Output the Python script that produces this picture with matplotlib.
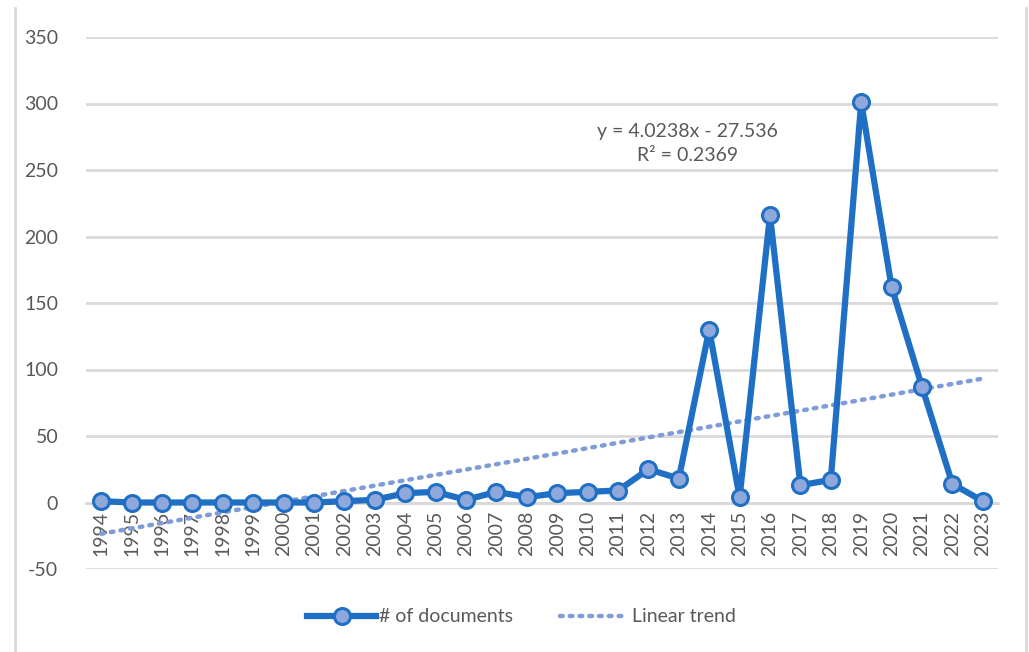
import numpy as np
import matplotlib.pyplot as plt

years = list(range(1994, 2024))
documents = [1, 0, 0, 0, 0, 0, 0, 0, 1, 2,
             7, 8, 2, 8, 4, 7, 8, 9, 25, 18,
             130, 4, 216, 13, 17, 301, 162, 87, 14, 1]

# Excel trend line coefficients (x = 1..n)
trend_slope = 4.0238
trend_intercept = -27.536
trend_r2 = 0.2369

text_col = "#595959"
grid_col = "#d9d9d9"
line_col = "#1f6fc5"
marker_col = "#8fa8dc"
trend_col = "#7f9bd8"

plt.rcParams['font.family'] = ['Lato', 'DejaVu Sans']
plt.rcParams['axes.unicode_minus'] = False

fig = plt.figure(figsize=(10.29, 6.52), dpi=100)
ax = fig.add_axes([86 / 1029, 1 - 569 / 652, (998 - 86) / 1029, (569 - 37) / 652])

x = np.arange(len(years))
trend = np.polyval([trend_slope, trend_intercept], x + 1)

ax.plot(x, trend, linestyle=(0, (0.6, 1.6)), color=trend_col, linewidth=3.2,
        dash_capstyle='round', label="Linear trend", zorder=2)
ax.plot(x, documents, color=line_col, linewidth=4.5, marker='o', markersize=11.5,
        markerfacecolor=marker_col, markeredgecolor=line_col, markeredgewidth=2.2,
        label="# of documents", zorder=3)

ax.set_xlim(-0.5, len(years) - 0.5)
ax.set_ylim(-50, 350)
ax.set_yticks(range(-50, 351, 50))
ax.yaxis.grid(True, color=grid_col, linewidth=2)
ax.set_axisbelow(True)
for s in ['top', 'right', 'left']:
    ax.spines[s].set_visible(False)
ax.spines['bottom'].set_position(('data', 0))
ax.spines['bottom'].set_color(grid_col)
ax.spines['bottom'].set_linewidth(2)
ax.spines['bottom'].set_zorder(1)

ax.set_xticks(x)
ax.set_xticklabels([str(y) for y in years], rotation=90)
ax.tick_params(axis='x', length=0, pad=6, labelsize=14, labelcolor=text_col)
ax.tick_params(axis='y', length=0, pad=20, labelsize=14, labelcolor=text_col)

ax.text(19.3, 270, f"y = {trend_slope}x - {abs(trend_intercept)}\nR² = {trend_r2}",
        ha='center', va='center', fontsize=14, color=text_col, linespacing=1.55)

handles, labels = ax.get_legend_handles_labels()
leg = fig.legend(handles[::-1], labels[::-1], loc='center', bbox_to_anchor=(0.507, 1 - 617 / 652),
                 ncol=2, frameon=False, fontsize=14, handlelength=3.5, columnspacing=2.4,
                 handletextpad=0.2)
for t in leg.get_texts():
    t.set_color(text_col)

# outer chart border (left and right edges only visible)
for xb in (15, 1026):
    fig.add_artist(plt.Line2D([xb / 1029, xb / 1029], [0, 1 - 8 / 652], transform=fig.transFigure,
                              color=grid_col, linewidth=2))

fig.savefig("out.png", dpi=100)
